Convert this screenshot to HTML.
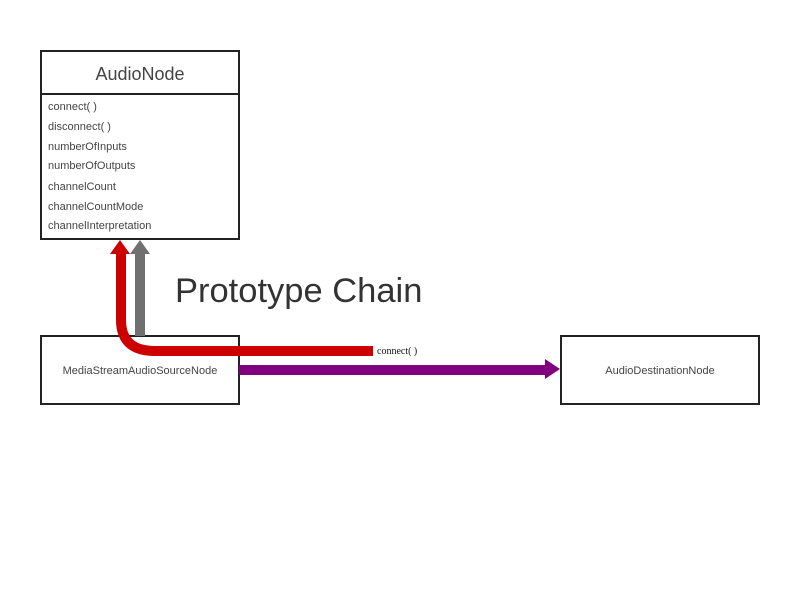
<!DOCTYPE html>
<html><head><style>
body{margin:0;background:#fff;width:800px;height:600px;overflow:hidden}
svg text{font-family:"Liberation Sans",sans-serif}
</style></head><body>
<svg width="800" height="600" xmlns="http://www.w3.org/2000/svg">
<rect width="800" height="600" fill="#fff"/>
<rect x="41" y="51" width="198" height="188" fill="#fff" stroke="#222" stroke-width="2"/>
<line x1="41" y1="94" x2="239" y2="94" stroke="#222" stroke-width="2"/>
<text x="140" y="80" font-size="18" fill="#444" text-anchor="middle">AudioNode</text>
<g font-size="11" fill="#444">
<text x="48" y="110">connect( )</text>
<text x="48" y="130">disconnect( )</text>
<text x="48" y="150">numberOfInputs</text>
<text x="48" y="169">numberOfOutputs</text>
<text x="48" y="190">channelCount</text>
<text x="48" y="210">channelCountMode</text>
<text x="48" y="229">channelInterpretation</text>
</g>
<rect x="41" y="336" width="198" height="68" fill="#fff" stroke="#222" stroke-width="2"/>
<text x="140" y="374" font-size="11" fill="#444" text-anchor="middle">MediaStreamAudioSourceNode</text>
<rect x="561" y="336" width="198" height="68" fill="#fff" stroke="#222" stroke-width="2"/>
<text x="660" y="374" font-size="11" fill="#444" text-anchor="middle">AudioDestinationNode</text>
<rect x="135" y="253" width="10" height="83" fill="#707070"/>
<polygon points="130,254 140,240 150,254" fill="#707070"/>
<path d="M121 253 V320 Q121 351 155 351 H373" fill="none" stroke="#cc0000" stroke-width="10"/>
<polygon points="110,254 120,240 130,254" fill="#cc0000"/>
<text x="377" y="354" font-size="10" fill="#111" style="font-family:'Liberation Serif',serif">connect( )</text>
<rect x="239" y="365" width="307" height="10" fill="#800080"/>
<polygon points="545,359 560,369 545,379" fill="#800080"/>
<text x="175" y="302" font-size="34.5" fill="#333">Prototype Chain</text>
</svg>
</body></html>
